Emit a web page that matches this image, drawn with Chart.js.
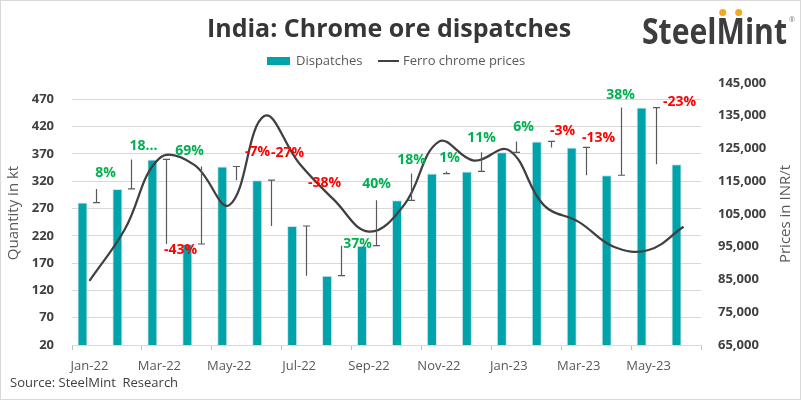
<!DOCTYPE html>
<html>
<head>
<meta charset="utf-8">
<title>India: Chrome ore dispatches</title>
<script src="https://cdn.jsdelivr.net/npm/chart.js@4.4.0/dist/chart.umd.min.js"></script>
<style>
  body { margin: 0; background: #fff; }
  #wrap { width: 801px; height: 400px; }
</style>
</head>
<body>
<div id="wrap"><canvas id="myChart" width="801" height="400"></canvas></div>
<script>
// data
const months = ['Jan-22', 'Feb-22', 'Mar-22', 'Apr-22', 'May-22', 'Jun-22', 'Jul-22', 'Aug-22', 'Sep-22',
                'Oct-22', 'Nov-22', 'Dec-22', 'Jan-23', 'Feb-23', 'Mar-23', 'Apr-23', 'May-23', 'Jun-23'];
const dispatches = [281, 306, 360, 205, 347, 322, 238, 147, 202, 285, 334, 338, 373, 393, 382, 331, 455, 351];
const ferroPrices = [84600, 100100, 122000, 120000, 107700, 134900, 120500, 109300, 99600,
                     107700, 127100, 121300, 124500, 107700, 102600, 95000, 94000, 101100];
// month-on-month change labels, as printed
const changeLabels = ['8%', '18...', '-43%', '69%', '-7%', '-27%', '-38%', '37%', '40%',
                      '18%', '1%', '11%', '6%', '-3%', '-13%', '38%', '-23%'];
const qtyTicks = [20, 70, 120, 170, 220, 270, 320, 370, 420, 470];

// connector series: floating bar from this month's value to next month's
const steps = dispatches.map((v, i) => i < dispatches.length - 1 ? [v, dispatches[i + 1]] : null);

// manual label placement (offset from the connector's top end, px)
const labelNudge = [
    {dx: 9, dy: -16}, {dx: 12, dy: -13}, {dx: 14, dy: 6, below: true}, {dx: -12, dy: -15},
    {dx: 21, dy: -14}, {dx: 16, dy: -27}, {dx: 18, dy: -43}, {dx: 16, dy: -2},
    {dx: 0, dy: -16}, {dx: 0, dy: -14}, {dx: 3, dy: -13}, {dx: 0, dy: -14},
    {dx: 7, dy: -14}, {dx: 11, dy: -10}, {dx: 12, dy: -9}, {dx: -1, dy: -13}, {dx: 23, dy: -6}
];

const TEAL = '#00A3A9';
const DARK = '#404040';
const FONT = "'Open Sans', sans-serif";

Chart.defaults.font.family = FONT;

const connectors = {
    id: 'connectors',
    afterDatasetsDraw(chart) {
        const ctx = chart.ctx;
        const y = chart.scales.y;
        const meta = chart.getDatasetMeta(1);
        ctx.save();
        meta.data.forEach((el, i) => {
            if (!steps[i]) return;
            const x = Math.round(el.x) + 0.5;
            const y0 = y.getPixelForValue(steps[i][0]);
            const y1 = y.getPixelForValue(steps[i][1]);
            ctx.strokeStyle = '#595959';
            ctx.lineWidth = 1.2;
            ctx.beginPath();
            ctx.moveTo(x, y0);
            ctx.lineTo(x, y1);
            ctx.moveTo(x - 3.5, y0);
            ctx.lineTo(x + 3.5, y0);
            ctx.stroke();

            const txt = changeLabels[i];
            const n = labelNudge[i];
            const anchor = n.below ? Math.max(y0, y1) : Math.min(y0, y1);
            ctx.font = 'bold 14px ' + FONT;
            ctx.textAlign = 'center';
            ctx.textBaseline = 'middle';
            ctx.fillStyle = txt.startsWith('-') ? '#FF0000' : '#00B050';
            ctx.fillText(txt, x + n.dx, anchor + n.dy);
        });
        ctx.restore();
    }
};

const decorations = {
    id: 'decorations',
    beforeDraw(chart) {
        const ctx = chart.ctx;
        ctx.save();
        ctx.fillStyle = '#fff';
        ctx.fillRect(0, 0, chart.width, chart.height);
        ctx.restore();
    },
    afterDraw(chart) {
        const ctx = chart.ctx;
        ctx.save();
        // outer frame
        ctx.strokeStyle = '#d9d9d9';
        ctx.lineWidth = 1;
        ctx.strokeRect(0.5, 0.5, chart.width - 1, chart.height - 1);

        // title
        ctx.fillStyle = '#363636';
        ctx.font = 'bold 25px ' + FONT;
        ctx.textAlign = 'center';
        ctx.textBaseline = 'middle';
        ctx.fillText('India: Chrome ore dispatches', 389, 30);

        // legend
        ctx.fillStyle = TEAL;
        ctx.fillRect(267, 57, 23, 8);
        ctx.strokeStyle = DARK;
        ctx.lineWidth = 2;
        ctx.beginPath();
        ctx.moveTo(378, 61);
        ctx.lineTo(399, 61);
        ctx.stroke();
        ctx.fillStyle = '#595959';
        ctx.font = '13px ' + FONT;
        ctx.textAlign = 'left';
        ctx.fillText('Dispatches', 296, 61);
        ctx.fillText('Ferro chrome prices', 403, 61);

        // logo
        ctx.font = 'bold 35px ' + FONT;
        ctx.textBaseline = 'alphabetic';
        const w = ctx.measureText('SteelMint').width;
        const sx = 145 / w;
        const mLeft = 642 + ctx.measureText('Steel').width * sx;
        const mWidth = ctx.measureText('M').width * sx;
        ctx.save();
        ctx.translate(642, 44);
        ctx.scale(sx, 1);
        ctx.fillStyle = '#3d3d3d';
        ctx.fillText('SteelMint', 0, 0);
        ctx.restore();
        ctx.fillStyle = '#F5A623';
        [mLeft + mWidth * 0.22, mLeft + mWidth * 0.78].forEach(cx => {
            ctx.beginPath();
            ctx.arc(cx, 12.5, 3.5, 0, Math.PI * 2);
            ctx.fill();
        });
        ctx.fillStyle = '#777';
        ctx.font = '7px ' + FONT;
        ctx.fillText('®', 789, 22);

        // axis titles
        ctx.fillStyle = '#595959';
        ctx.font = '15px ' + FONT;
        ctx.textAlign = 'center';
        ctx.textBaseline = 'middle';
        ctx.save();
        ctx.translate(14, 213);
        ctx.rotate(-Math.PI / 2);
        ctx.fillText('Quantity in kt', 0, 0);
        ctx.restore();
        ctx.save();
        ctx.translate(786, 214);
        ctx.rotate(-Math.PI / 2);
        ctx.fillText('Prices in INR/t', 0, 0);
        ctx.restore();

        // source
        ctx.font = '13px ' + FONT;
        ctx.textAlign = 'left';
        ctx.fillStyle = DARK;
        ctx.fillText('Source: SteelMint  Research', 10, 383);
        ctx.restore();
    }
};

function chartIt() {
    const ctx = document.getElementById('myChart').getContext('2d');
    new Chart(ctx, {
        type: 'bar',
        data: {
            labels: months,
            datasets: [{
                label: 'Dispatches',
                data: dispatches,
                backgroundColor: TEAL,
                borderColor: '#cfe3ee',
                borderWidth: 1,
                categoryPercentage: 0.8,
                barPercentage: 0.72,
                yAxisID: 'y',
                order: 1
            }, {
                label: 'steps',
                data: steps,
                backgroundColor: 'transparent',
                borderWidth: 0,
                categoryPercentage: 0.8,
                barPercentage: 0.72,
                yAxisID: 'y',
                order: 2
            }, {
                type: 'line',
                label: 'Ferro chrome prices',
                data: ferroPrices,
                borderColor: DARK,
                borderWidth: 2.25,
                pointRadius: 0,
                tension: 0.4,
                fill: false,
                yAxisID: 'y1',
                order: 0
            }]
        },
        options: {
            responsive: false,
            animation: false,
            layout: { padding: { top: 83 } },
            plugins: {
                legend: { display: false },
                title: { display: false },
                tooltip: { enabled: false }
            },
            scales: {
                x: {
                    afterFit: s => { s.height = 55; },
                    grid: {
                        drawOnChartArea: false,
                        tickLength: 5,
                        color: c => (c.index === undefined || c.index % 2 === 0) ? '#bfbfbf' : 'transparent'
                    },
                    border: { color: '#d9d9d9' },
                    ticks: {
                        autoSkip: false,
                        maxRotation: 0,
                        padding: 8,
                        color: '#595959',
                        font: { size: 13 },
                        callback: (v, i) => i % 2 === 0 ? months[i] : ''
                    }
                },
                y: {
                    position: 'left',
                    min: 20,
                    max: 500,
                    afterFit: s => { s.width = 72; },
                    afterBuildTicks: s => { s.ticks = qtyTicks.map(v => ({ value: v })); },
                    grid: { color: '#d9d9d9', drawTicks: false },
                    border: { display: false },
                    ticks: { padding: 18, color: DARK, font: { size: 13, weight: 'bold' } }
                },
                y1: {
                    position: 'right',
                    min: 65000,
                    max: 145000,
                    afterFit: s => { s.width = 100; },
                    grid: { drawOnChartArea: false, drawTicks: false },
                    border: { display: false },
                    ticks: {
                        stepSize: 10000,
                        padding: 17,
                        color: DARK,
                        font: { size: 13, weight: 'bold' },
                        callback: v => v.toLocaleString('en-US')
                    }
                }
            }
        },
        plugins: [decorations, connectors]
    });
}
chartIt();
</script>
</body>
</html>
